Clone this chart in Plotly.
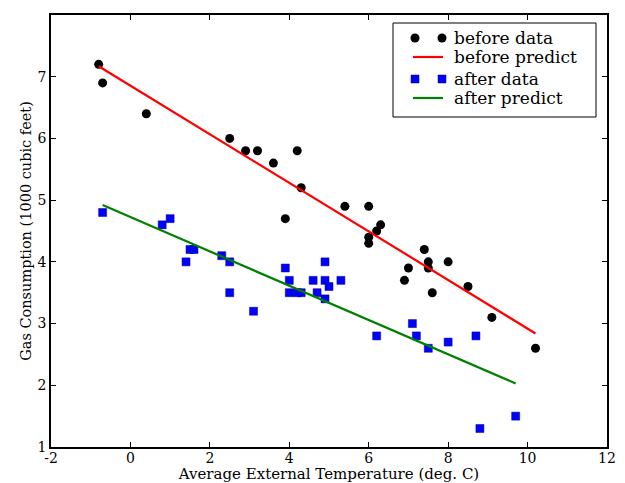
import plotly.graph_objects as go

before_temp = [-0.8, -0.7, 0.4, 2.5, 2.9, 3.2, 3.6, 3.9, 4.2, 4.3, 5.4, 6.0, 6.0, 6.0,
               6.2, 6.3, 6.9, 7.0, 7.4, 7.5, 7.5, 7.6, 8.0, 8.5, 9.1, 10.2]
before_gas = [7.2, 6.9, 6.4, 6.0, 5.8, 5.8, 5.6, 4.7, 5.8, 5.2, 4.9, 4.9, 4.3, 4.4,
              4.5, 4.6, 3.7, 3.9, 4.2, 4.0, 3.9, 3.5, 4.0, 3.6, 3.1, 2.6]
after_temp = [-0.7, 0.8, 1.0, 1.4, 1.5, 1.6, 2.3, 2.5, 2.5, 3.1, 3.9, 4.0, 4.0, 4.2, 4.3,
              4.6, 4.7, 4.9, 4.9, 4.9, 5.0, 5.3, 6.2, 7.1, 7.2, 7.5, 8.0, 8.7, 8.8, 9.7]
after_gas = [4.8, 4.6, 4.7, 4.0, 4.2, 4.2, 4.1, 4.0, 3.5, 3.2, 3.9, 3.5, 3.7, 3.5, 3.5,
             3.7, 3.5, 3.4, 3.7, 4.0, 3.6, 3.7, 2.8, 3.0, 2.8, 2.6, 2.7, 2.8, 1.3, 1.5]
before_pred_temp = [-0.8, 10.2]
before_pred_gas = [7.17, 2.84]
after_pred_temp = [-0.7, 9.7]
after_pred_gas = [4.92, 2.03]

x_ticks = [-2, 0, 2, 4, 6, 8, 10, 12]
y_ticks = [1, 2, 3, 4, 5, 6, 7, 8]
legend_labels = ["before data", "before predict", "after data", "after predict"]

font = "DejaVu Serif"
OFF = 8  # browser body margin
W, H = 625 - OFF, 483 - OFF
L, R, T, B = 51 - OFF, 18, 15 - OFF, 36
PW, PH = W - L - R, H - T - B


def px_x(p):
    return (p - OFF - L) / PW


def px_y(p):
    return (H - B - (p - OFF)) / PH


fig = go.Figure()
fig.add_trace(go.Scatter(x=before_temp, y=before_gas, mode="markers", name=legend_labels[0],
                         marker=dict(symbol="circle", size=9, color="black",
                                     line=dict(width=0))))
fig.add_trace(go.Scatter(x=before_pred_temp, y=before_pred_gas, mode="lines",
                         name=legend_labels[1], line=dict(color="red", width=2.2)))
fig.add_trace(go.Scatter(x=after_temp, y=after_gas, mode="markers", name=legend_labels[2],
                         marker=dict(symbol="square", size=8, color="#0000ff",
                                     line=dict(width=0.5, color="#000080"))))
fig.add_trace(go.Scatter(x=after_pred_temp, y=after_pred_gas, mode="lines",
                         name=legend_labels[3], line=dict(color="green", width=2.2)))

axis_common = dict(showgrid=False, zeroline=False, ticks="inside", ticklen=5,
                   tickcolor="black", tickwidth=1, mirror="ticks", showline=True,
                   linecolor="black", linewidth=1.5, automargin=False,
                   tickfont=dict(family=font, size=14, color="black"))

fig.update_xaxes(range=[-2, 12], tickvals=x_ticks, ticktext=[str(v) for v in x_ticks],
                 ticklabelstandoff=-3,
                 title=dict(text="Average External Temperature (deg. C)",
                            font=dict(family=font, size=15, color="black"), standoff=6),
                 **axis_common)
fig.update_yaxes(range=[1, 8], tickvals=y_ticks, ticktext=[str(v) for v in y_ticks],
                 title=dict(text="Gas Consumption (1000 cubic feet)",
                            font=dict(family=font, size=14.5, color="black"), standoff=2),
                 **axis_common)

# matplotlib-style legend box
shapes = [dict(type="rect", xref="paper", yref="paper",
               x0=px_x(393), x1=px_x(596), y0=px_y(117), y1=px_y(23),
               line=dict(color="black", width=1), fillcolor="white", layer="above")]
annotations = []
rows_y = [38, 57, 79, 98]
for i, (lab, ry) in enumerate(zip(legend_labels, rows_y)):
    yp = px_y(ry)
    if i == 0:
        for mx in (415, 442):
            shapes.append(dict(type="circle", xref="paper", yref="paper",
                               xsizemode="pixel", ysizemode="pixel",
                               xanchor=px_x(mx), yanchor=yp, x0=-4.5, x1=4.5, y0=-4.5, y1=4.5,
                               fillcolor="black", line=dict(width=0), layer="above"))
    elif i == 2:
        for mx in (415, 442):
            shapes.append(dict(type="rect", xref="paper", yref="paper",
                               xsizemode="pixel", ysizemode="pixel",
                               xanchor=px_x(mx), yanchor=yp, x0=-4, x1=4, y0=-4, y1=4,
                               fillcolor="#0000ff", line=dict(width=0.5, color="#000080"),
                               layer="above"))
    else:
        col = "red" if i == 1 else "green"
        shapes.append(dict(type="line", xref="paper", yref="paper",
                           x0=px_x(413), x1=px_x(443), y0=yp, y1=yp,
                           line=dict(color=col, width=2.2), layer="above"))
    annotations.append(dict(xref="paper", yref="paper", x=px_x(452), y=yp,
                            xanchor="left", yanchor="middle", text=lab, showarrow=False,
                            font=dict(family=font, size=17, color="black")))

fig.update_layout(
    width=W, height=H,
    margin=dict(l=L, r=R, t=T, b=B),
    plot_bgcolor="white", paper_bgcolor="white",
    font=dict(family=font, color="black"),
    showlegend=False,
    shapes=shapes,
    annotations=annotations,
)

fig.write_html("out.html")
